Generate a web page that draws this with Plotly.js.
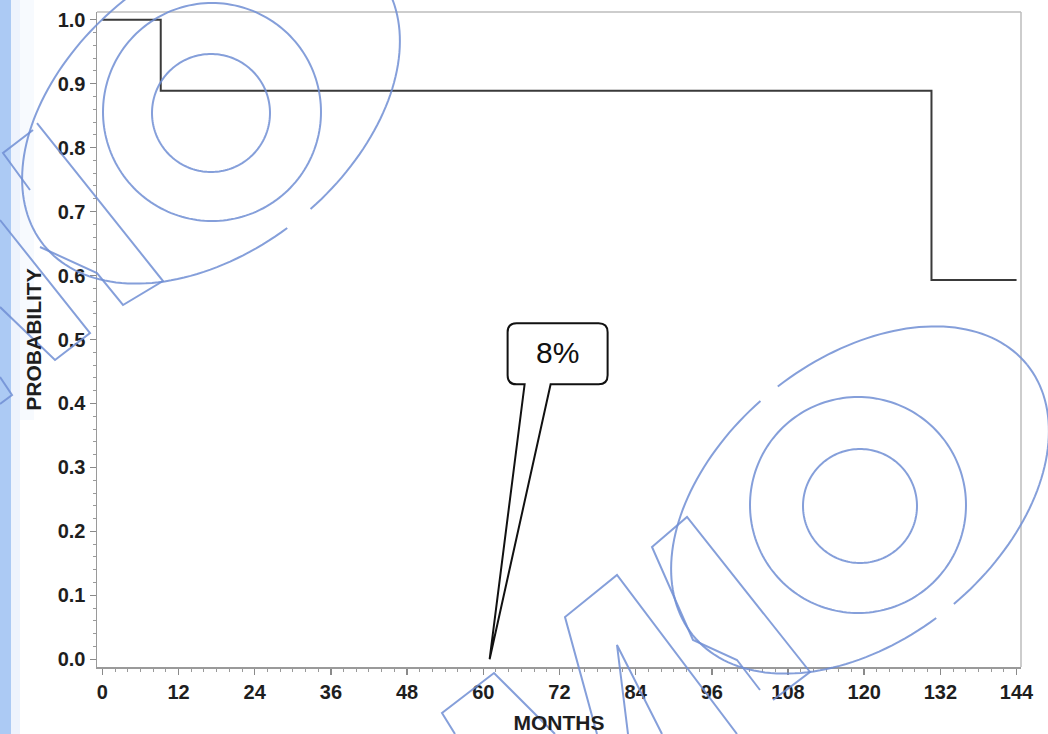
<!DOCTYPE html>
<html>
<head>
<meta charset="utf-8">
<script src="https://cdn.plot.ly/plotly-3.0.1.min.js"></script>
<style>
  html, body { margin: 0; padding: 0; background: #ffffff; }
  #chart { width: 1048px; height: 734px; }
</style>
</head>
<body>
<div id="chart"></div>
<script>
// ---- data ----
const months = [0, 9.2, 130.6, 144];
const survival = [1.0, 0.889, 0.593, 0.593];
const xTickVals = [0, 12, 24, 36, 48, 60, 72, 84, 96, 108, 120, 132, 144];
const yTickVals = [0.0, 0.1, 0.2, 0.3, 0.4, 0.5, 0.6, 0.7, 0.8, 0.9, 1.0];
const calloutMonth = [61];
const calloutProb = [0];
const calloutLabel = ['8%'];
const xTitle = 'MONTHS';
const yTitle = 'PROBABILITY';

// ---- layout geometry ----
const W = 1048, H = 734;
const M = { l: 97, r: 27, t: 12, b: 67 };
const PW = W - M.l - M.r, PH = H - M.t - M.b;
function px(x, y) { return [(x - M.l) / PW, (H - M.b - y) / PH]; }

// ---- watermark helpers (decoration, image-pixel positions) ----
const wmColor = 'rgba(112,142,212,0.85)';
function polyPath(pts, close) {
  return pts.map((p, i) => { const q = px(p[0], p[1]); return (i ? 'L' : 'M') + q[0].toFixed(5) + ',' + q[1].toFixed(5); }).join(' ') + (close ? ' Z' : '');
}
function ellipseSegments(cx, cy, a, b, thetaDeg, gaps, gapR) {
  const th = thetaDeg * Math.PI / 180;
  const u = [Math.cos(th), Math.sin(th)], v = [-Math.sin(th), Math.cos(th)];
  const segs = []; let cur = [];
  for (let k = 0; k <= 360; k += 2) {
    const t = k * Math.PI / 180;
    const x = cx + a * Math.cos(t) * u[0] + b * Math.sin(t) * v[0];
    const y = cy + a * Math.cos(t) * u[1] + b * Math.sin(t) * v[1];
    const inGap = gaps.some(g => Math.hypot(g[0] - x, g[1] - y) < gapR);
    if (inGap) { if (cur.length > 1) segs.push(cur); cur = []; }
    else cur.push([x, y]);
  }
  if (cur.length > 1) segs.push(cur);
  return segs;
}
function circlePts(cx, cy, r) { return ellipseSegments(cx, cy, r, r, 0, [], 0)[0]; }

const wmShapes = [];
function addLine(pts, close) {
  wmShapes.push({ type: 'path', xref: 'paper', yref: 'paper', layer: 'above', path: polyPath(pts, close), line: { color: wmColor, width: 2 } });
}
// top-left logo
addLine(circlePts(211, 113, 59), true);
addLine(circlePts(212, 112, 109), true);
ellipseSegments(211, 110, 215, 140, -39, [[299, 221]], 10).forEach(s => addLine(s, false));
addLine([[37, 123], [163, 281], [123, 305], [97, 273], [40, 247]], false);
addLine([[33, 130], [3, 153], [30, 190]], false);
addLine([[0, 220], [90, 333], [55, 360], [0, 307]], false);
addLine([[0, 377], [12, 395], [0, 404]], false);
// bottom-right logo
addLine(circlePts(860, 506, 57), true);
addLine(circlePts(858, 505, 108), true);
ellipseSegments(860, 500, 215, 140, -39, [[947, 615], [772, 400]], 10).forEach(s => addLine(s, false));
addLine([[455, 734], [442, 713], [494, 673], [555, 734]], false);
addLine([[597, 734], [565, 617], [617, 575], [737, 734]], false);
addLine([[628, 734], [617, 645], [662, 734]], false);
addLine([[773, 700], [810, 672], [687, 517], [652, 547], [693, 640], [737, 660], [760, 690]], false);

// ---- callout (rounded box + tail), anchored at the pointed month ----
const calloutPath = 'M0,0 L35,275 L27,275 Q18,275 18,284 L18,327 Q18,336 27,336 ' +
  'L109,336 Q118,336 118,327 L118,284 Q118,275 109,275 L61,275 Z';

const shapes = [
  // light blue strip at left edge
  { type: 'rect', xref: 'paper', yref: 'paper', layer: 'below', x0: px(0,0)[0], x1: px(11,0)[0], y0: px(0,734)[1], y1: px(0,0)[1], fillcolor: 'rgb(172,202,244)', line: { width: 0 } },
  { type: 'rect', xref: 'paper', yref: 'paper', layer: 'below', x0: px(11,0)[0], x1: px(20,0)[0], y0: px(0,734)[1], y1: px(0,0)[1], fillcolor: 'rgba(205,222,248,0.35)', line: { width: 0 } },
  { type: 'rect', xref: 'paper', yref: 'paper', layer: 'below', x0: px(20,0)[0], x1: px(34,0)[0], y0: px(0,420)[1], y1: px(0,0)[1], fillcolor: 'rgba(215,229,250,0.2)', line: { width: 0 } },
  // light frame top and right
  { type: 'line', xref: 'paper', yref: 'paper', x0: 0, x1: 1, y0: 1, y1: 1, line: { color: '#bdbdbd', width: 1.5 } },
  { type: 'line', xref: 'paper', yref: 'paper', x0: 1, x1: 1, y0: 0, y1: 1, line: { color: '#bdbdbd', width: 1.5 } },
  // callout
  { type: 'path', xref: 'x', yref: 'y', xsizemode: 'pixel', ysizemode: 'pixel',
    xanchor: calloutMonth[0], yanchor: calloutProb[0], path: calloutPath,
    fillcolor: '#ffffff', line: { color: '#111111', width: 2 }, layer: 'above' }
].concat(wmShapes);

const trace = {
  x: months, y: survival, type: 'scatter', mode: 'lines',
  line: { shape: 'hv', color: '#3a3a3a', width: 2 }, hoverinfo: 'skip', showlegend: false
};

const tickFont = { family: 'Liberation Sans, Arial, sans-serif', size: 20, color: '#1e1e1e', weight: 700 };
const titleFont = { family: 'Liberation Sans, Arial, sans-serif', size: 21, color: '#1e1e1e', weight: 700 };

const layout = {
  width: W, height: H,
  margin: M,
  paper_bgcolor: '#ffffff', plot_bgcolor: '#ffffff',
  showlegend: false,
  xaxis: {
    range: [-0.84, 144.7], tickmode: 'array', tickvals: xTickVals, ticktext: xTickVals.map(String),
    ticks: 'outside', ticklen: 6, tickwidth: 1.5, tickcolor: '#8a8a8a',
    minor: { dtick: 2, ticks: 'outside', ticklen: 3, tickwidth: 1, tickcolor: '#9a9a9a', showgrid: false },
    showline: true, linecolor: '#9a9a9a', linewidth: 1.5, showgrid: false, zeroline: false,
    tickfont: tickFont, automargin: false,
    title: { text: xTitle, font: titleFont, standoff: 14 }
  },
  yaxis: {
    range: [-0.012, 1.012], tickmode: 'array', tickvals: yTickVals, ticktext: yTickVals.map(v => v.toFixed(1)),
    ticks: 'outside', ticklen: 6, tickwidth: 1.5, tickcolor: '#8a8a8a',
    minor: { dtick: 0.02, ticks: 'outside', ticklen: 3, tickwidth: 1, tickcolor: '#9a9a9a', showgrid: false },
    showline: true, linecolor: '#9a9a9a', linewidth: 1.5, showgrid: false, zeroline: false,
    tickfont: tickFont, automargin: false,
    title: { text: yTitle, font: titleFont, standoff: 10 }
  },
  shapes: shapes,
  annotations: [{
    x: calloutMonth[0], y: calloutProb[0], xref: 'x', yref: 'y',
    text: calloutLabel[0], showarrow: false, xshift: 68, yshift: 307,
    font: { family: 'Liberation Sans, Arial, sans-serif', size: 30, color: '#111111' }
  }]
};

Plotly.newPlot('chart', [trace], layout, { staticPlot: true, displayModeBar: false });
</script>
</body>
</html>
